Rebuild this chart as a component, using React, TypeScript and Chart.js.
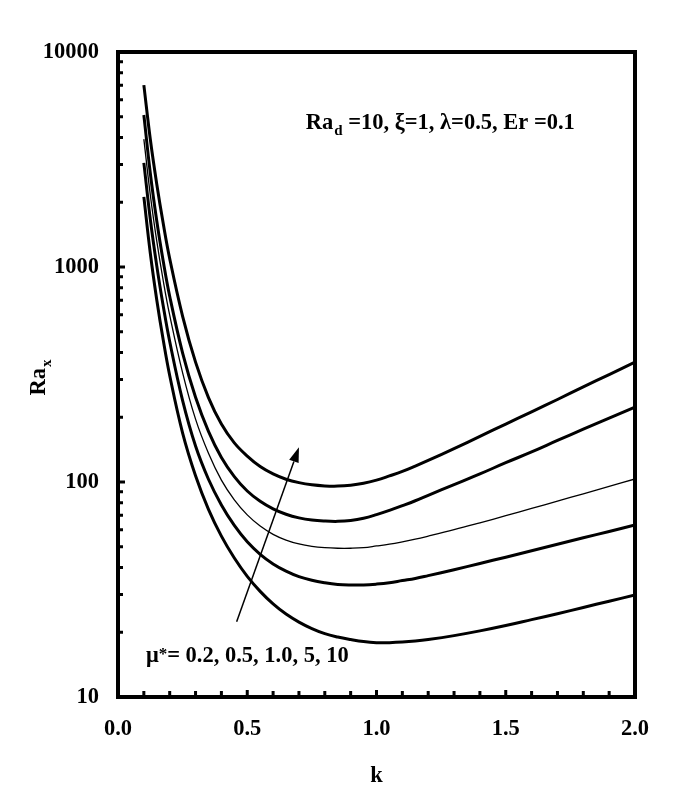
import React, { useEffect, useRef } from 'react';
import { Chart, registerables } from 'chart.js';

Chart.register(...registerables);

// ---- data ----
const kValues = [0.1, 0.125, 0.15, 0.175, 0.2, 0.25, 0.3, 0.35, 0.4, 0.45, 0.5, 0.55, 0.6, 0.65, 0.7, 0.75, 0.8, 0.85, 0.9, 0.95, 1.0, 1.05, 1.1, 1.15, 1.2, 1.3, 1.4, 1.5, 1.6, 1.7, 1.8, 1.9, 2.0];
const raMu02 = [2118, 1159, 703, 457, 313, 169, 107, 74.6, 56.0, 44.3, 36.4, 31.0, 27.1, 24.3, 22.3, 20.8, 19.7, 19.0, 18.5, 18.1, 17.9, 17.9, 18.0, 18.2, 18.5, 19.3, 20.3, 21.5, 22.9, 24.4, 26.1, 27.9, 29.8];
const raMu05 = [3048, 1667, 1012, 658, 450, 239, 147, 103, 78.2, 62.8, 52.7, 46.1, 41.6, 38.5, 36.3, 34.9, 34.0, 33.4, 33.2, 33.2, 33.5, 34.0, 34.8, 35.6, 36.7, 39.1, 41.8, 44.7, 47.9, 51.3, 55.0, 58.9, 63.1];
const raMu1 = [3936, 2163, 1318, 863, 597, 322, 196, 136, 102, 82.6, 70.3, 62.4, 57.1, 53.7, 51.5, 50.2, 49.5, 49.2, 49.2, 49.5, 50.4, 51.4, 52.7, 54.2, 56.0, 60.0, 64.6, 69.7, 75.3, 81.5, 88.1, 95.3, 103.3];
const raMu5 = [5093, 2729, 1637, 1064, 731, 398, 248, 172, 130, 106, 90.8, 81.3, 75.0, 70.8, 68.1, 66.5, 65.8, 65.6, 66.2, 67.8, 70.5, 73.8, 77.6, 81.8, 86.7, 97.2, 109, 123, 138, 156, 176, 198, 223];
const raMu10 = [7015, 3926, 2427, 1592, 1094, 590, 361, 247, 186, 152, 132, 118, 109, 103, 99.3, 97.0, 95.9, 95.7, 96.6, 98.6, 102, 106.7, 112, 118.6, 126, 143, 163, 186, 212, 242, 277, 316, 361];

const seriesNames = ['μ*=0.2', 'μ*=0.5', 'μ*=1.0', 'μ*=5', 'μ*=10'];
const xTickValues = [0, 0.5, 1.0, 1.5, 2.0];
const yTickValues = [10, 100, 1000, 10000];

const paramText = ' =10, ξ=1, λ=0.5, Er =0.1';
const muText = '= 0.2, 0.5, 1.0, 5, 10';

// annotation anchors in data coordinates (k, Ra)
const paramAnchor = [0.726, 4385];
const muAnchor = [0.108, 14.6];
const arrowTail = [0.459, 22.4];
const arrowHead = [0.70, 145];

const FONT = '"Liberation Serif", "Times New Roman", serif';
const FS = 22.5;

const decorPlugin = {
  id: 'decor',
  afterDraw(chart: any) {
    const ctx = chart.ctx;
    const { left, right, top, bottom } = chart.chartArea;
    const xs = chart.scales.x;
    const ys = chart.scales.y;
    ctx.save();
    ctx.strokeStyle = '#000';
    ctx.fillStyle = '#000';

    // frame
    ctx.lineWidth = 4;
    ctx.strokeRect(left, top, right - left, bottom - top);

    // x ticks (inward)
    ctx.lineWidth = 3;
    ctx.beginPath();
    for (let i = 1; i < 20; i++) {
      const px = xs.getPixelForValue(i / 10);
      const len = i % 5 === 0 ? 7 : 6;
      ctx.moveTo(px, bottom);
      ctx.lineTo(px, bottom - len);
    }
    ctx.stroke();

    // y ticks (inward, log minor)
    ctx.beginPath();
    for (let d = 10; d < 10000; d *= 10) {
      for (let m = 1; m < 10; m++) {
        const v = d * m;
        if (v <= 10) continue;
        const py = ys.getPixelForValue(v);
        const len = m === 1 ? 7 : 5;
        ctx.moveTo(left, py);
        ctx.lineTo(left + len, py);
      }
    }
    ctx.stroke();

    // parameter text
    const big = 'bold ' + FS + 'px ' + FONT;
    const small = 'bold 15px ' + FONT;
    ctx.textBaseline = 'alphabetic';
    ctx.textAlign = 'left';
    let px = xs.getPixelForValue(paramAnchor[0]);
    let py = ys.getPixelForValue(paramAnchor[1]);
    ctx.font = big;
    ctx.fillText('Ra', px, py);
    px += ctx.measureText('Ra').width;
    ctx.font = small;
    ctx.fillText('d', px + 1, py + 6);
    px += ctx.measureText('d').width + 1;
    ctx.font = big;
    ctx.fillText(paramText, px, py);

    // mu text
    px = xs.getPixelForValue(muAnchor[0]);
    py = ys.getPixelForValue(muAnchor[1]);
    ctx.font = big;
    ctx.fillText('μ', px, py);
    px += ctx.measureText('μ').width;
    ctx.font = 'bold 17px ' + FONT;
    ctx.fillText('*', px, py - 3);
    px += ctx.measureText('*').width;
    ctx.font = big;
    ctx.fillText(muText, px, py);

    // arrow
    const x1 = xs.getPixelForValue(arrowTail[0]);
    const y1 = ys.getPixelForValue(arrowTail[1]);
    const x2 = xs.getPixelForValue(arrowHead[0]);
    const y2 = ys.getPixelForValue(arrowHead[1]);
    const ang = Math.atan2(y2 - y1, x2 - x1);
    const hl = 15, hw = 5;
    const bx = x2 - hl * Math.cos(ang);
    const by = y2 - hl * Math.sin(ang);
    ctx.lineWidth = 1.5;
    ctx.beginPath();
    ctx.moveTo(x1, y1);
    ctx.lineTo(bx, by);
    ctx.stroke();
    ctx.beginPath();
    ctx.moveTo(x2, y2);
    ctx.lineTo(bx + hw * Math.sin(ang), by - hw * Math.cos(ang));
    ctx.lineTo(bx - hw * Math.sin(ang), by + hw * Math.cos(ang));
    ctx.closePath();
    ctx.fill();

    // axis titles
    ctx.font = big;
    ctx.textAlign = 'center';
    ctx.fillText('k', (left + right) / 2, 782);

    ctx.save();
    ctx.translate(45, 378);
    ctx.rotate(-Math.PI / 2);
    ctx.textAlign = 'left';
    ctx.font = big;
    const wRa = ctx.measureText('Ra').width;
    ctx.font = small;
    const wx = ctx.measureText('x').width;
    const start = -(wRa + wx) / 2;
    ctx.font = big;
    ctx.fillText('Ra', start, 0);
    ctx.font = small;
    ctx.fillText('x', start + wRa + 1, 6);
    ctx.restore();

    ctx.restore();
  },
};

export default function App() {
  const ref = useRef<HTMLCanvasElement | null>(null);

  useEffect(() => {
    document.body.style.margin = '0';
    const series = [raMu02, raMu05, raMu1, raMu5, raMu10];
    const widths = [3, 3, 1.3, 3, 3];
    const chart = new Chart(ref.current as HTMLCanvasElement, {
      type: 'line',
      data: {
        datasets: series.map((s, i) => ({
          label: seriesNames[i],
          data: kValues.map((k, j) => ({ x: k, y: s[j] })),
          borderColor: '#000',
          backgroundColor: '#000',
          borderWidth: widths[i],
          pointRadius: 0,
          fill: false,
          tension: 0.4,
        })),
      },
      options: {
        animation: false,
        responsive: false,
        devicePixelRatio: 1,
        layout: { padding: { top: 52, right: 50, left: 0, bottom: 0 } },
        plugins: { legend: { display: false }, tooltip: { enabled: false } },
        scales: {
          x: {
            type: 'linear',
            min: 0,
            max: 2,
            afterBuildTicks: (s: any) => {
              s.ticks = xTickValues.map((v) => ({ value: v }));
            },
            afterFit: (s: any) => {
              s.height = 104;
            },
            grid: { display: false, drawTicks: false },
            border: { display: false },
            ticks: {
              autoSkip: false,
              maxRotation: 0,
              padding: 19,
              color: '#000',
              font: { family: FONT, size: FS, weight: 'bold' },
              callback: (v: any) => Number(v).toFixed(1),
            },
          },
          y: {
            type: 'logarithmic',
            min: 10,
            max: 10000,
            afterBuildTicks: (s: any) => {
              s.ticks = yTickValues.map((v) => ({ value: v }));
            },
            afterFit: (s: any) => {
              s.width = 118;
            },
            grid: { display: false, drawTicks: false },
            border: { display: false },
            ticks: {
              autoSkip: false,
              padding: 19,
              color: '#000',
              font: { family: FONT, size: FS, weight: 'bold' },
              callback: (v: any) => String(v),
            },
          },
        },
      },
      plugins: [decorPlugin],
    });
    return () => chart.destroy();
  }, []);

  return (
    <div style={{ position: 'fixed', left: 0, top: 0, width: 685, height: 801, background: '#fff' }}>
      <canvas ref={ref} width={685} height={801} style={{ display: 'block' }} />
    </div>
  );
}
